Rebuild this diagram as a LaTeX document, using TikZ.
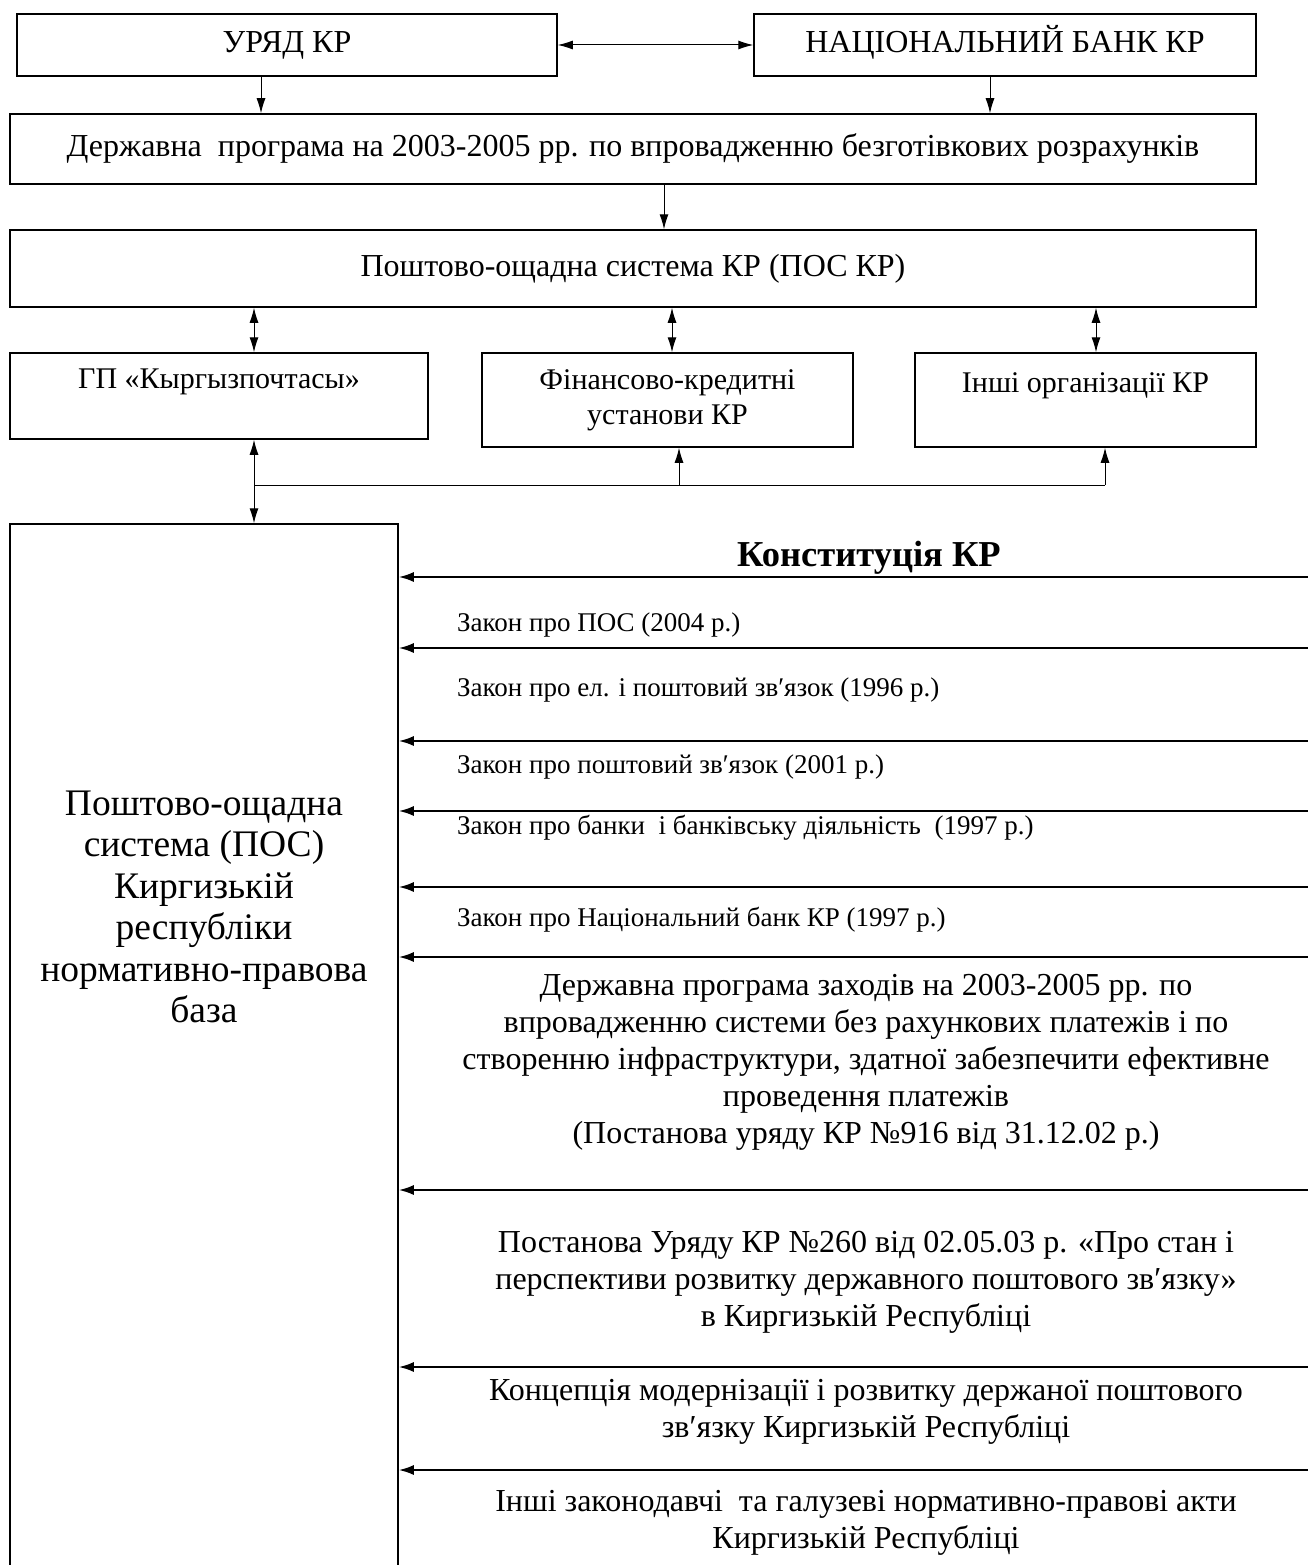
\documentclass[tikz,border=0pt]{standalone}
\usepackage{fontspec}
\setmainfont{Liberation Serif}
\usetikzlibrary{arrows.meta,positioning,calc}

\begin{document}
\begin{tikzpicture}[x=1pt,y=-1pt,
  box/.style={draw, line width=1.5pt, inner sep=0pt, align=center},
  arr/.style={-{Latex[length=15pt,width=9pt]}, line width=1pt},
  darr/.style={{Latex[length=15pt,width=9pt]}-{Latex[length=15pt,width=9pt]}, line width=1pt},
  lawarr/.style={-{Latex[length=15pt,width=10pt]}, line width=2pt},
  txtbig/.style={font=\fontsize{32}{38}\selectfont, text height=22pt, text depth=7pt},
  txtmid/.style={font=\fontsize{30}{35}\selectfont},
  txtsmall/.style={font=\fontsize{27}{31}\selectfont, anchor=west, inner sep=0pt},
  txtlaw/.style={font=\fontsize{32}{37}\selectfont, align=center, inner sep=0pt}
]
\useasboundingbox (0,0) rectangle (1308,1565);

% --- Top level ---
\node[box, txtbig, minimum width=540pt, minimum height=62pt] (uryad) at (287,45) {УРЯД КР};
\node[box, txtbig, minimum width=502pt, minimum height=62pt] (bank) at (1005,45) {НАЦІОНАЛЬНИЙ БАНК КР};
\node[box, txtbig, minimum width=1246pt, minimum height=70pt] (prog) at (633,149)
  {Державна~ програма на 2003-2005 рр. по впровадженню безготівкових розрахунків};
\node[box, txtbig, minimum width=1246pt, minimum height=77pt] (pos) at (633,268.5)
  {Поштово-ощадна система КР (ПОС КР)};

% --- Participants ---
\node[box, txtmid, minimum width=418pt, minimum height=86pt] (gp) at (219,396)
  {ГП «Кыргызпочтасы»\\ \mbox{}};
\node[box, txtmid, minimum width=371pt, minimum height=94pt] (fin) at (667.5,400)
  {Фінансово-кредитні\\ установи КР};
\node[box, txtmid, minimum width=341pt, minimum height=94pt] (inshi) at (1085.5,400)
  {Інші організації КР\\ \mbox{}};

% --- Legal base ---
\node[box, minimum width=388pt, minimum height=1080pt] (base) at (204,1064) {};
\node[font=\fontsize{37.5}{41.5}\selectfont, align=center] (basetxt) at (204,907)
  {Поштово-ощадна\\ система (ПОС)\\ Киргизькій\\ республіки\\ нормативно-правова\\ база};

% Connectors
\draw[darr] (uryad) -- (bank);
\draw[arr] ([xshift=-26pt]uryad.south) -- ([xshift=-26pt]uryad.south |- prog.north);
\draw[arr] ([xshift=-15pt]bank.south) -- ([xshift=-15pt]bank.south |- prog.north);
\draw[arr] ([xshift=31pt]prog.south) -- ([xshift=31pt]prog.south |- pos.north);
\draw[darr] ([xshift=35pt]gp.north) -- ([xshift=35pt]gp.north |- pos.south);
\draw[darr] ([xshift=4.5pt]fin.north) -- ([xshift=4.5pt]fin.north |- pos.south);
\draw[darr] ([xshift=10.5pt]inshi.north) -- ([xshift=10.5pt]inshi.north |- pos.south);

\coordinate (jg) at (254,485);
\coordinate (jf) at (679,485);
\coordinate (ji) at (1105,485);
\draw[line width=1pt] (jg) -- (ji);
\draw[arr] (jg) -- (jg |- gp.south);
\draw[arr] (jg) -- (jg |- base.north);
\draw[arr] (jf) -- (jf |- fin.south);
\draw[arr] (ji) -- (ji |- inshi.south);

% Law arrows
\foreach \y [count=\i] in {577,648,741,811,887,957,1190,1367,1470}{
  \coordinate (law\i) at (1312,\y);
  \draw[lawarr] (law\i) -- (law\i -| base.east);
}

% Labels
\node[font=\fontsize{36.5}{40}\selectfont\bfseries] (konst) at (869,558) {Конституція КР};
\node[txtsmall] (zpos) at (457,625) {Закон про ПОС (2004 р.)};
\node[txtsmall] (zzv) at (457,690) {Закон про ел. і поштовий зв′язок (1996 р.)};
\node[txtsmall] (zpzv) at (457,767) {Закон про поштовий зв′язок (2001 р.)};
\node[txtsmall] (zbank) at (457,828) {Закон про банки~ і банківську діяльність~ (1997 р.)};
\node[txtsmall] (znb) at (457,920) {Закон про Національний банк КР (1997 р.)};
\node[txtlaw] (dprog) at (866,1062)
  {Державна програма заходів на 2003-2005 рр. по\\
   впровадженню системи без рахункових платежів і по\\
   створенню інфраструктури, здатної забезпечити ефективне\\
   проведення платежів\\
   (Постанова уряду КР №916 від 31.12.02 р.)};
\node[txtlaw] (post) at (866,1282)
  {Постанова Уряду КР №260 від 02.05.03 р. «Про стан і\\
   перспективи розвитку державного поштового зв′язку»\\
   в Киргизькій Республіці};
\node[txtlaw] (konc) at (866,1412)
  {Концепція модернізації і розвитку держаної поштового\\
   зв′язку Киргизькій Республіці};
\node[txtlaw] (inshiakt) at (866,1523)
  {Інші законодавчі~ та галузеві нормативно-правові акти\\
   Киргизькій Республіці};

\end{tikzpicture}
\end{document}
